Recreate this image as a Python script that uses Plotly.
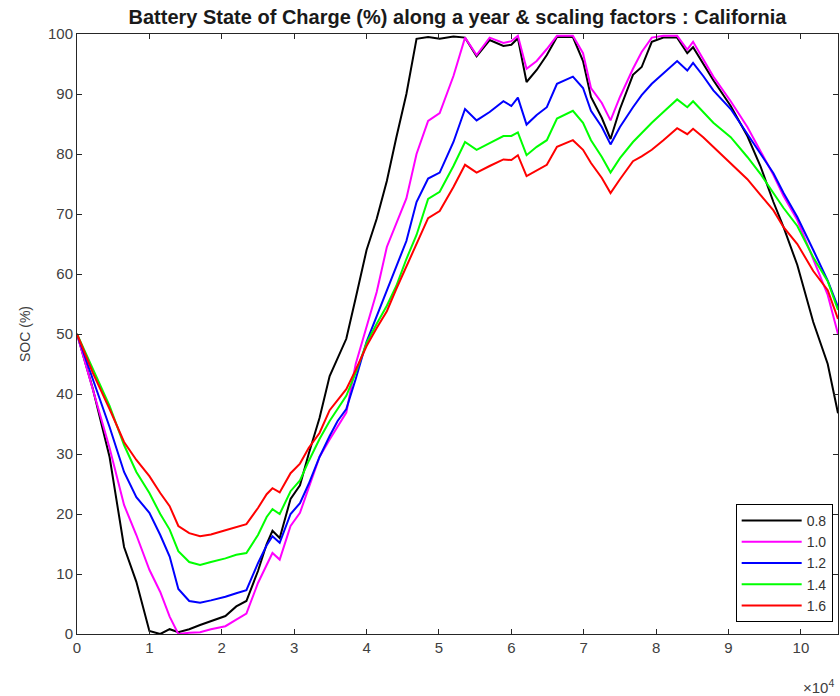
import plotly.graph_objects as go

# x positions (time steps, in units of 1e4)
x_e4 = [0, 0.22, 0.45, 0.65, 0.82, 1.0, 1.15, 1.28, 1.4, 1.55, 1.7, 1.85, 2.05, 2.2, 2.34,
        2.5, 2.62, 2.7, 2.8, 2.95, 3.08, 3.2, 3.35, 3.49, 3.6, 3.72, 3.85, 4.0, 4.14, 4.28,
        4.41, 4.55, 4.69, 4.85, 5.01, 5.2, 5.36, 5.52, 5.7, 5.89, 6.0, 6.09, 6.21, 6.35, 6.49,
        6.63, 6.85, 6.99, 7.1, 7.25, 7.37, 7.5, 7.68, 7.8, 7.94, 8.1, 8.29, 8.43, 8.51, 8.65,
        8.79, 9.03, 9.26, 9.44, 9.62, 9.76, 9.95, 10.17, 10.37, 10.512]

soc_08 = [50, 40.8, 29.5, 14.5, 8.7, 0.5, 0, 0.8, 0.3, 0.8, 1.5, 2.2, 3, 4.6, 5.5,
          10.5, 15, 17.2, 16, 22.5, 24.8, 30, 36, 43, 46, 49.2, 56, 64, 69.2, 75.5,
          82.7, 90, 99.2, 99.5, 99.2, 99.6, 99.4, 96.3, 99, 98, 98.2, 99.3, 92, 94, 96.5,
          99.5, 99.5, 95.5, 89.5, 86, 82.5, 87.5, 93.2, 94.5, 98.7, 99.4, 99.4, 96.8, 97.8, 95,
          92.3, 88, 83, 78, 72, 67.8, 61.5, 52, 45, 36.8]

soc_10 = [50, 40.5, 31, 21.5, 16.5, 10.7, 7, 2.9, 0, 0.2, 0.3, 0.8, 1.3, 2.4, 3.4,
          8.5, 11.5, 13.5, 12.4, 18, 20.2, 24.5, 29.5, 32.4, 34.5, 36.9, 45, 51.4, 57, 64.5,
          68.5, 72.6, 80, 85.5, 86.8, 93, 99.4, 96.5, 99.4, 98.5, 98.8, 99.7, 94.2, 95.5, 97.5,
          99.7, 99.7, 96.8, 91, 88.5, 85.6, 89.5, 94.2, 97, 99.4, 99.7, 99.7, 97.4, 98.7, 95.8,
          92.9, 88.8, 84.5, 80.5, 76.5, 73, 69, 62.5, 56.5, 50]

soc_12 = [50, 42.5, 34.5, 27, 22.8, 20.2, 16.5, 12.9, 7.5, 5.5, 5.2, 5.6, 6.2, 6.8, 7.3,
          11.8, 14.8, 16.3, 15.2, 20, 21.8, 25, 29.5, 33, 35.5, 37.5, 42.5, 48.7, 53, 57,
          61, 65.5, 72, 75.9, 76.9, 82, 87.5, 85.6, 87, 88.8, 88, 89.4, 84.9, 86.5, 87.8,
          91.7, 92.9, 91, 87.2, 84.5, 81.6, 84.5, 87.8, 89.8, 91.7, 93.5, 95.5, 93.9, 95.2, 93,
          90.6, 87.5, 83.3, 80, 76.8, 73.5, 69.5, 64, 58.9, 54.5]

soc_14 = [50, 44, 38, 31.5, 27, 23.5, 20, 17.4, 13.8, 12, 11.5, 12, 12.6, 13.2, 13.5,
          16.5, 19.5, 20.8, 20, 23.8, 25.6, 28.8, 32.5, 35.5, 37.5, 39.7, 43.5, 48.5, 51.7, 54.7,
          58, 62.5, 66.5, 72.5, 73.7, 78, 82, 80.7, 81.8, 83, 83, 83.6, 79.8, 81.2, 82.3,
          85.9, 87.2, 85.2, 82.3, 79.5, 76.9, 79.3, 82, 83.5, 85.2, 87, 89.1, 87.8, 88.8, 87,
          85.2, 82.8, 79.5, 76.7, 73.6, 71, 68, 62.8, 58.8, 54]

soc_16 = [50, 43.5, 37.5, 32, 29, 26.3, 23.5, 21.3, 18, 16.8, 16.3, 16.6, 17.3, 17.8, 18.3,
          21, 23.3, 24.3, 23.6, 26.8, 28.4, 31, 33.5, 37.3, 39, 40.8, 44, 48, 51, 53.8,
          57.5, 61.3, 65, 69.3, 70.5, 74.5, 78.2, 76.9, 78, 79.1, 79, 79.8, 76.3, 77.3, 78.2,
          81.2, 82.3, 80.7, 78.5, 76, 73.5, 75.8, 78.8, 79.6, 80.7, 82.3, 84.3, 83.3, 84.2, 82.8,
          81.2, 78.3, 75.8, 73.2, 70.6, 67.8, 65, 60.5, 57.3, 52.5]

series_names = ["0.8", "1.0", "1.2", "1.4", "1.6"]
series_values = [soc_08, soc_10, soc_12, soc_14, soc_16]
series_colors = ["#000000", "#ff00ff", "#0000ff", "#00ff00", "#ff0000"]

x_ticks = list(range(0, 11))
x_tick_labels = [str(t) for t in x_ticks]

x_vals = [v * 1e4 for v in x_e4]

FONT = "Liberation Sans, Arial, sans-serif"

fig = go.Figure()
for name, vals, col in zip(series_names, series_values, series_colors):
    fig.add_trace(go.Scatter(x=x_vals, y=vals, mode="lines", name=name,
                             line=dict(color=col, width=2)))

axis_font = dict(family=FONT, size=15, color="#404040")

fig.update_layout(
    width=840, height=696,
    margin=dict(l=77, r=2, t=34, b=62),
    paper_bgcolor="white", plot_bgcolor="white",
    title=dict(text="<b>Battery State of Charge (%) along a year & scaling factors : California</b>",
               x=0.5, xref="paper", xanchor="center", y=0.975, yanchor="middle",
               font=dict(family=FONT, size=20, color="#1a1a1a")),
    showlegend=True,
    legend=dict(x=0.993, y=0.02, xanchor="right", yanchor="bottom",
                bgcolor="white", bordercolor="#000000", borderwidth=1,
                font=dict(family=FONT, size=14, color="#333333"),
                itemwidth=60, tracegroupgap=0),
    font=axis_font,
)

fig.update_xaxes(range=[0, 105120], tickvals=[t * 1e4 for t in x_ticks], ticktext=x_tick_labels,
                 ticks="inside", ticklen=5, tickcolor="#262626", showline=True, linecolor="#262626",
                 linewidth=1, mirror="ticks", showgrid=False, zeroline=False, tickfont=axis_font)
fig.update_yaxes(range=[0, 100], tickvals=list(range(0, 101, 10)), ticks="inside", ticklen=5,
                 tickcolor="#262626", showline=True, linecolor="#262626", linewidth=1,
                 mirror="ticks", showgrid=False, zeroline=False, tickfont=axis_font,
                 title=dict(text="SOC (%)", font=dict(family=FONT, size=14, color="#404040"),
                            standoff=14))

fig.add_annotation(text="×10<sup>4</sup>", xref="paper", yref="paper", x=0.997, y=-0.068,
                   xanchor="right", yanchor="top", showarrow=False,
                   font=dict(family=FONT, size=15, color="#404040"))

fig.write_html("out.html")
